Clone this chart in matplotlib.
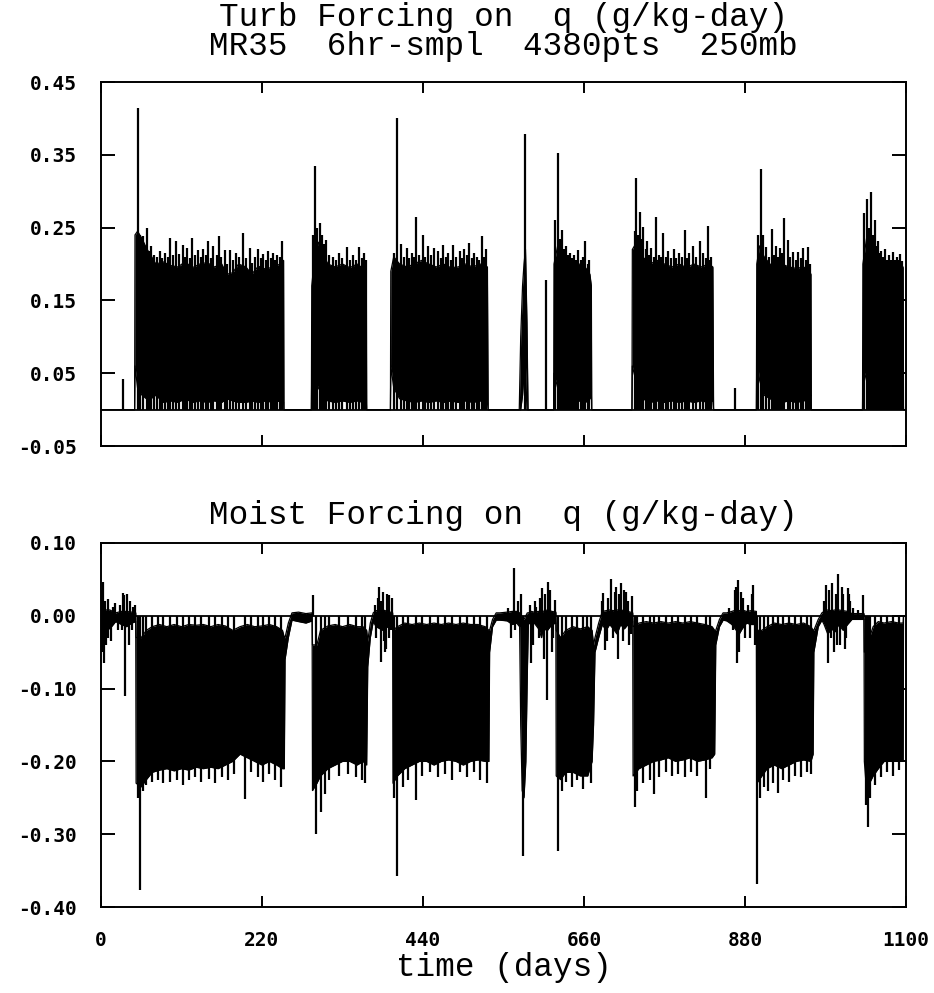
import matplotlib
matplotlib.use("Agg")
import matplotlib.pyplot as plt
import numpy as np

# ---------------- data ----------------
x_ticks = [0, 220, 440, 660, 880, 1100]
x_tick_labels = ["0", "220", "440", "660", "880", "1100"]

turb_yticks = [-0.05, 0.05, 0.15, 0.25, 0.35, 0.45]
turb_ytick_labels = ["-0.05", "0.05", "0.15", "0.25", "0.35", "0.45"]
moist_yticks = [-0.40, -0.30, -0.20, -0.10, 0.00, 0.10]
moist_ytick_labels = ["-0.40", "-0.30", "-0.20", "-0.10", "0.00", "0.10"]

# Turbulent forcing: envelope of the dense 6-hourly signal (days, low, high)
turb_day = [0, 46.0, 46.5, 50, 56, 62, 68, 75, 85, 95, 105, 115, 125, 135, 145, 155, 165, 172, 180,
            188, 198, 206, 215, 225, 235, 245, 249.5, 250,
            287.5, 288, 292, 297, 303, 310, 320, 330, 340, 350, 358, 362.5, 363,
            395.5, 396, 400, 408, 418, 428, 438, 448, 458, 468, 478, 488, 498, 508, 518, 528, 529,
            571.5, 573.5, 576, 578, 580, 582, 583.5,
            618.5, 619, 624, 630, 638, 646, 654, 662, 668, 670, 670.5,
            725.5, 726, 732, 740, 750, 760, 770, 780, 790, 800, 810, 820, 830, 836, 837,
            895.5, 896, 900, 906, 914, 922, 930, 940, 950, 960, 968, 970, 970.5,
            1040.5, 1041, 1046, 1052, 1058, 1066, 1074, 1082, 1090, 1096, 1096.5, 1100]
turb_hi = [0, 0, 0.24, 0.245, 0.235, 0.222, 0.212, 0.2, 0.203, 0.198, 0.196, 0.203, 0.195, 0.2, 0.202,
           0.196, 0.2, 0.186, 0.188, 0.2, 0.196, 0.186, 0.197, 0.193, 0.196, 0.2, 0.205, 0,
           0, 0.17, 0.21, 0.23, 0.215, 0.2, 0.196, 0.2, 0.195, 0.2, 0.194, 0.196, 0,
           0, 0.19, 0.21, 0.2, 0.196, 0.2, 0.205, 0.2, 0.196, 0.2, 0.195, 0.196, 0.2, 0.196, 0.2, 0.196, 0,
           0, 0.1, 0.17, 0.2, 0.22, 0.12, 0,
           0, 0.2, 0.225, 0.215, 0.2, 0.196, 0.2, 0.195, 0.186, 0.17, 0,
           0, 0.22, 0.23, 0.21, 0.2, 0.205, 0.2, 0.196, 0.2, 0.195, 0.2, 0.196, 0.2, 0.196, 0,
           0, 0.2, 0.225, 0.21, 0.2, 0.196, 0.2, 0.196, 0.194, 0.196, 0.19, 0.186, 0,
           0, 0.2, 0.235, 0.23, 0.21, 0.2, 0.196, 0.196, 0.194, 0.196, 0, 0]
turb_lo = [0, 0, 0.06, 0.03, 0.02, 0.015, 0.015, 0.02, 0.01, 0.012, 0.01, 0.015, 0.01, 0.012, 0.01,
           0.012, 0.01, 0.015, 0.012, 0.01, 0.01, 0.012, 0.01, 0.012, 0.01, 0.012, 0.01, 0,
           0, 0.05, 0.045, 0.03, 0.02, 0.012, 0.01, 0.012, 0.01, 0.012, 0.01, 0.01, 0,
           0, 0.06, 0.03, 0.015, 0.012, 0.01, 0.012, 0.01, 0.012, 0.01, 0.012, 0.01, 0.012, 0.01, 0.012, 0.01, 0,
           0, 0.0, 0.02, 0.05, 0.06, 0.0, 0,
           0, 0.05, 0.03, 0.015, 0.012, 0.01, 0.012, 0.01, 0.015, 0.02, 0,
           0, 0.06, 0.035, 0.015, 0.01, 0.012, 0.01, 0.012, 0.01, 0.012, 0.01, 0.012, 0.01, 0.012, 0,
           0, 0.07, 0.04, 0.02, 0.015, 0.012, 0.01, 0.012, 0.01, 0.012, 0.015, 0.02, 0,
           0, 0.06, 0.04, 0.025, 0.015, 0.015, 0.012, 0.015, 0.012, 0.015, 0, 0]

turb_spike_day = [30, 51, 54, 58, 62.4, 66, 69, 72, 77, 80, 84, 88, 91, 94, 98, 102, 107, 111.6, 115,
                  118, 121, 124, 129, 133, 137, 140, 143, 146.6, 150, 153, 158, 161.6, 164,
                  169.4, 172, 176, 180, 185, 189, 194.4, 198, 203, 207, 211, 215, 219, 222, 225, 228, 232,
                  235, 238, 241, 244, 247,
                  290, 292.4, 295, 299, 302, 305, 308, 312, 317, 321, 325, 329, 335.6, 340, 344, 348,
                  353, 356, 359, 362,
                  400, 405, 410, 414, 418, 421, 425, 428, 431, 435, 439.4, 443, 447, 451, 455, 460,
                  464, 467.6, 471, 474, 478, 481, 485, 490, 493, 496, 500, 503, 507, 510, 514, 517, 520,
                  523, 526,
                  579.2, 607.5,
                  621, 624.7, 627, 630, 633, 635, 638, 641, 644, 646, 649, 652, 656, 659, 662, 665, 667,
                  729, 731, 734, 736, 739, 741, 744, 746, 749, 752, 755, 759, 762, 765, 768, 772, 775,
                  779, 783, 786, 790, 794, 798, 801, 804, 809, 813, 818, 823, 826, 829, 832, 834,
                  866,
                  898, 901.6, 905, 909, 913, 917, 920, 922, 925, 928, 931, 933.5, 938, 941, 945, 949,
                  952.6, 956, 959, 963, 966, 969,
                  1043, 1046, 1049, 1052, 1055, 1057, 1060, 1062, 1064, 1066, 1069, 1071, 1074, 1077,
                  1080, 1082, 1085, 1087, 1089, 1091.5, 1094]
turb_spike_val = [0.042, 0.414, 0.24, 0.238, 0.25, 0.218, 0.225, 0.212, 0.21, 0.218, 0.208, 0.215, 0.21,
                  0.236, 0.212, 0.232, 0.214, 0.226, 0.21, 0.222, 0.208, 0.236, 0.212, 0.219, 0.21,
                  0.22, 0.212, 0.231, 0.208, 0.225, 0.212, 0.239, 0.21,
                  0.219, 0.2, 0.219, 0.205, 0.215, 0.21, 0.243, 0.208, 0.222, 0.202, 0.21, 0.22, 0.208,
                  0.214, 0.205, 0.218, 0.208,
                  0.215, 0.206, 0.213, 0.21, 0.232,
                  0.24, 0.335, 0.25, 0.257, 0.24, 0.228, 0.233, 0.212, 0.21, 0.206, 0.215, 0.208, 0.223,
                  0.206, 0.212, 0.205, 0.223, 0.208, 0.215, 0.205,
                  0.215, 0.40, 0.228, 0.21, 0.222, 0.208, 0.215, 0.21, 0.265, 0.212, 0.24, 0.21, 0.225,
                  0.212, 0.222, 0.218, 0.208, 0.226, 0.21, 0.215, 0.206, 0.226, 0.21, 0.218, 0.208,
                  0.22, 0.212, 0.229, 0.208, 0.215, 0.21, 0.205, 0.238, 0.21, 0.22,
                  0.378, 0.178,
                  0.26, 0.352, 0.235, 0.247, 0.22, 0.225, 0.212, 0.215, 0.208, 0.212, 0.205, 0.219,
                  0.206, 0.21, 0.232, 0.2, 0.205,
                  0.245, 0.318, 0.24, 0.272, 0.235, 0.251, 0.22, 0.232, 0.212, 0.222, 0.21, 0.264, 0.212,
                  0.21, 0.243, 0.21, 0.218, 0.208, 0.22, 0.208, 0.215, 0.21, 0.247, 0.208, 0.215, 0.225,
                  0.21, 0.231, 0.215, 0.208, 0.252, 0.205, 0.21,
                  0.03,
                  0.24, 0.33, 0.24, 0.223, 0.21, 0.248, 0.212, 0.225, 0.21, 0.222, 0.215, 0.263, 0.233,
                  0.21, 0.216, 0.206, 0.216, 0.208, 0.222, 0.206, 0.223, 0.2,
                  0.27, 0.289, 0.25, 0.299, 0.24, 0.26, 0.225, 0.232, 0.215, 0.218, 0.21, 0.22, 0.206,
                  0.212, 0.205, 0.216, 0.206, 0.21, 0.205, 0.214, 0.204]

# Moist forcing: envelope (days, low, high)
moist_day = [0, 5, 12, 20, 28, 35, 42, 47.5,
             48, 55, 62, 70, 80, 90, 100, 110, 120, 130, 140, 150, 160, 170, 180, 190, 200, 210, 220,
             230, 240, 248, 250.5, 251.5, 256, 261, 270, 280, 288.5,
             289, 295, 300, 310, 320, 330, 340, 350, 358, 363, 364.5, 368, 372, 376, 385, 392, 398.5,
             399, 405, 415, 425, 435, 445, 455, 465, 475, 485, 495, 505, 515, 525, 530, 531, 535, 540,
             545, 555, 562, 568, 572, 573.5, 575.5, 578, 580.5, 582.5, 584, 588, 592, 598, 602, 604,
             610, 616, 621.5,
             622, 628, 635, 645, 655, 665, 671, 673, 675, 680, 685, 690, 695, 700, 705, 710, 715, 720, 726.5,
             727, 735, 745, 755, 765, 775, 785, 795, 805, 815, 825, 835, 838.5, 840, 845, 850, 855, 862,
             868, 872, 876, 882, 888, 895.5,
             896, 903, 910, 920, 930, 940, 950, 960, 970, 973, 974, 980, 985, 988, 993, 998, 1003, 1008,
             1014, 1020, 1026, 1042.5,
             1043, 1046, 1050, 1055, 1062, 1070, 1080, 1090, 1096, 1096.5, 1100]
moist_hi = [0.015, 0.008, 0.008, 0.004, 0.006, 0.006, 0.005, 0.004,
            -0.03, -0.03, -0.02, -0.015, -0.012, -0.015, -0.012, -0.015, -0.012, -0.013, -0.012, -0.015,
            -0.012, -0.014, -0.02, -0.015, -0.012, -0.015, -0.014,
            -0.012, -0.015, -0.02, -0.03, -0.03, -0.01, 0.004, 0.005, 0.003, 0.004,
            -0.04, -0.04, -0.02, -0.014, -0.012, -0.015, -0.012, -0.015, -0.015, -0.02, -0.035, -0.01,
            0.004, 0.007, 0.008, 0.006, 0.004,
            -0.02, -0.015, -0.01, -0.012, -0.01, -0.012, -0.01, -0.012, -0.01, -0.012, -0.01, -0.012,
            -0.012, -0.015, -0.02, -0.02, -0.005, 0.004,
            0.004, 0.005, 0.006, 0.006, 0.004, 0.0, -0.005, -0.005, 0.0, 0.004, 0.004, 0.006, 0.005, 0.006,
            0.004, 0.006, 0.008, 0.006, 0.005,
            -0.02, -0.03, -0.02, -0.015, -0.018, -0.015, -0.02, -0.04, -0.03, -0.01, 0.006, 0.007, 0.008,
            0.007, 0.008, 0.008, 0.007, 0.006, 0.004,
            -0.015, -0.01, -0.008, -0.01, -0.008, -0.01, -0.008, -0.01, -0.008, -0.01, -0.012, -0.015,
            -0.02, -0.02, -0.005, 0.004, 0.004, 0.006, 0.008, 0.007, 0.008, 0.006, 0.007, 0.006,
            -0.02, -0.02, -0.015, -0.01, -0.012, -0.01, -0.012, -0.01, -0.015, -0.02, -0.02, -0.005,
            0.004, 0.006, 0.008, 0.007, 0.008, 0.008, 0.007, 0.006, 0.003, 0.003,
            -0.05, -0.045, -0.03, -0.015, -0.008, -0.01, -0.008, -0.01, -0.01, 0.0, 0.0]
moist_lo = [-0.02, -0.015, -0.018, -0.008, -0.012, -0.015, -0.01, -0.008,
            -0.23, -0.235, -0.225, -0.215, -0.212, -0.21, -0.213, -0.21, -0.212, -0.208, -0.21, -0.208,
            -0.21, -0.205, -0.2, -0.19, -0.195, -0.2, -0.205,
            -0.2, -0.205, -0.21, -0.21, -0.06, -0.03, -0.006, -0.008, -0.01, -0.007,
            -0.24, -0.23, -0.22, -0.21, -0.205, -0.2, -0.2, -0.205, -0.2, -0.205, -0.07, -0.03,
            -0.008, -0.015, -0.02, -0.015, -0.007,
            -0.23, -0.22, -0.21, -0.205, -0.2, -0.2, -0.205, -0.2, -0.198, -0.2, -0.205, -0.2,
            -0.198, -0.2, -0.2, -0.05, -0.015, -0.006,
            -0.006, -0.007, -0.012, -0.01, -0.015, -0.15, -0.24, -0.25, -0.2, -0.08, -0.01, -0.012, -0.01,
            -0.018, -0.03, -0.018, -0.02, -0.012, -0.01,
            -0.22, -0.225, -0.215, -0.215, -0.22, -0.22, -0.2, -0.15, -0.05, -0.03, -0.012, -0.02, -0.012,
            -0.018, -0.025, -0.012, -0.018, -0.012, -0.008,
            -0.22, -0.21, -0.205, -0.2, -0.198, -0.195, -0.2, -0.198, -0.195, -0.2, -0.198, -0.195,
            -0.19, -0.04, -0.015, -0.006, -0.007, -0.012, -0.02, -0.025, -0.018, -0.01, -0.012, -0.012,
            -0.23, -0.22, -0.21, -0.205, -0.21, -0.205, -0.2, -0.198, -0.2, -0.19, -0.05, -0.015,
            -0.006, -0.012, -0.025, -0.018, -0.022, -0.012, -0.02, -0.012, -0.005, -0.005,
            -0.2, -0.24, -0.23, -0.22, -0.21, -0.2, -0.2, -0.2, -0.2, 0.0, 0.0]

moist_spike_day = [1, 2, 3, 4, 6, 7, 9, 10, 14, 16, 19, 23, 26, 29, 30.5, 32, 33, 35, 38, 40, 42, 44, 46,
                   50, 53, 57, 62, 70, 78, 85, 95, 104, 112, 120, 128, 137, 148, 156, 165, 174, 182,
                   196.7, 205, 214, 222, 230, 238, 246,
                   290, 294, 300, 306, 312, 325, 338, 348, 356, 361,
                   374, 376, 378, 380, 382, 383, 385.7, 387, 388, 390, 391, 393, 394, 396, 398,
                   401, 405, 412, 420, 430, 438, 450, 460, 470, 480, 490, 500, 510, 518, 527,
                   556, 560, 564.6, 566, 570, 574, 577, 586, 588, 590, 593, 595, 598, 600, 602, 605, 607,
                   609.5, 611, 613, 616, 618, 620,
                   624.8, 630, 636, 643, 650, 658, 664, 669,
                   684, 686, 688, 691, 693, 697, 699, 702, 704, 706, 708, 711, 713, 715, 718, 720, 722,
                   724, 725,
                   730, 733, 740, 750, 756, 763, 772, 780, 788, 798, 806, 815, 826, 832,
                   858, 863, 866, 868, 869, 870, 872, 875, 877, 880, 884, 887, 889, 891, 894,
                   897, 900, 906, 912, 918, 925, 932, 940, 948, 956, 965, 970,
                   988, 991, 993, 995, 997, 999, 1001, 1004, 1005, 1007, 1010, 1012, 1014, 1016, 1018,
                   1020, 1022, 1024, 1028, 1035, 1041,
                   1045, 1048, 1051, 1058, 1066, 1074, 1082, 1090]
moist_spike_val = [0.035, -0.05, 0.047, -0.065, 0.02, -0.04, -0.03, 0.023, -0.035, 0.012, 0.018, -0.02,
                   0.015, -0.02, 0.031, 0.028, -0.11, 0.03, -0.04, 0.02, -0.02, 0.012, 0.015,
                   -0.25, -0.376, -0.24, -0.232, -0.228, -0.225, -0.23, -0.228, -0.225, -0.232, -0.226,
                   -0.222, -0.228, -0.224, -0.23, -0.222, -0.226, -0.218,
                   -0.252, -0.215, -0.222, -0.228, -0.218, -0.225, -0.235,
                   0.028, -0.30, -0.27, -0.245, -0.225, -0.22, -0.218, -0.222, -0.225, -0.23,
                   0.015, -0.03, 0.025, 0.040, -0.063, 0.02, 0.033, -0.035, -0.05, -0.045, 0.030, 0.028,
                   -0.03, -0.02, 0.024,
                   -0.25, -0.357, -0.235, -0.225, -0.253, -0.22, -0.215, -0.222, -0.218, -0.225, -0.215,
                   -0.222, -0.215, -0.225, -0.23,
                   0.01, -0.03, 0.065, -0.02, 0.02, 0.03, -0.33, 0.015, -0.065, -0.04, 0.02, 0.012,
                   -0.03, 0.025, 0.038, -0.06, 0.03, -0.115, 0.047, 0.035, -0.05, -0.03, 0.022,
                   -0.323, -0.24, -0.228, -0.235, -0.225, -0.238, -0.22, -0.23,
                   0.02, 0.031, -0.047, -0.035, 0.025, 0.05, -0.03, 0.032, 0.04, -0.06, 0.03, 0.045,
                   -0.035, 0.035, 0.033, 0.02, -0.04, -0.025, 0.027,
                   -0.262, -0.24, -0.23, -0.225, -0.245, -0.222, -0.215, -0.22, -0.218, -0.221, -0.215,
                   -0.22, -0.25, -0.21,
                   0.01, -0.02, 0.035, 0.04, -0.065, 0.049, -0.05, 0.033, 0.025, -0.03, 0.015, -0.03,
                   0.03, 0.042, -0.04,
                   -0.368, -0.25, -0.235, -0.24, -0.23, -0.243, -0.225, -0.228, -0.22, -0.222, -0.215, -0.218,
                   0.02, 0.042, -0.065, 0.035, -0.03, 0.045, -0.05, 0.03, -0.04, 0.058, -0.04, 0.04,
                   0.03, -0.045, -0.03, 0.038, 0.03, 0.02, 0.01, 0.008, 0.029,
                   -0.26, -0.29, -0.25, -0.232, -0.222, -0.215, -0.22, -0.212]

# ---------------- figure ----------------
plt.rcParams["font.family"] = "DejaVu Sans Mono"
plt.rcParams["font.weight"] = "bold"

fig = plt.figure(figsize=(9.34, 9.93), dpi=100)
ax1 = fig.add_axes([0.1081, 0.5508, 0.862, 0.3666])
ax2 = fig.add_axes([0.1081, 0.0866, 0.862, 0.3666])


def draw(ax, day, lo, hi, sday, sval):
    ax.fill_between(day, lo, hi, color="black", lw=0)
    ax.plot(day, hi, color="black", lw=0.9)
    ax.plot(day, lo, color="black", lw=0.9)
    ax.vlines(sday, 0, sval, color="black", lw=1.6)
    ax.axhline(0, color="black", lw=1.3)


draw(ax1, turb_day, turb_lo, turb_hi, turb_spike_day, turb_spike_val)
draw(ax2, moist_day, moist_lo, moist_hi, moist_spike_day, moist_spike_val)

for ax, yt, ytl, ylim in [(ax1, turb_yticks, turb_ytick_labels, (-0.05, 0.45)),
                          (ax2, moist_yticks, moist_ytick_labels, (-0.40, 0.10))]:
    ax.set_xlim(0, 1100)
    ax.set_ylim(*ylim)
    ax.set_xticks(x_ticks)
    ax.set_yticks(yt)
    ax.set_yticklabels(ytl)
    for s in ax.spines.values():
        s.set_linewidth(1.4)
    ax.tick_params(axis="both", direction="in", top=True, right=True, width=1.4,
                   labelsize=14, pad=17)
    ax.tick_params(axis="x", length=8)
    ax.tick_params(axis="y", length=10)

ax1.set_xticklabels([])
ax2.set_xticklabels(x_tick_labels)

title_font = dict(family="Liberation Mono", weight="normal", size=23.5, ha="center", va="center")
xc = 0.1081 + 0.862 / 2
fig.text(xc, 1 - 32 / 993, "Turb Forcing on  q (g/kg-day)\nMR35  6hr-smpl  4380pts  250mb",
         linespacing=0.92, **title_font)
fig.text(xc, 0.4804, "Moist Forcing on  q (g/kg-day)", **title_font)
fig.text(xc, 0.0252, "time (days)", **title_font)

fig.savefig("out.png", dpi=100)
